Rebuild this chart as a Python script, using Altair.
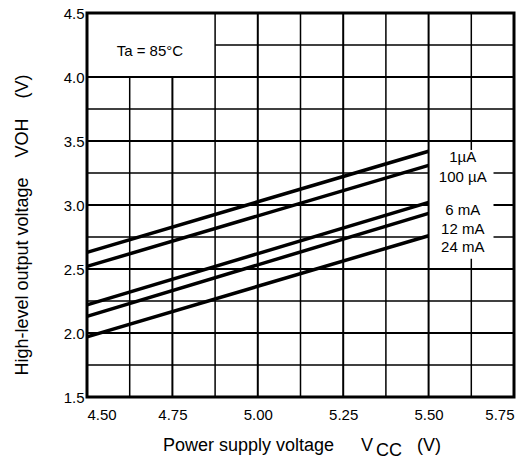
import altair as alt
import pandas as pd

# ---- data ----
vcc = [4.50, 5.50]
series = ["1µA", "100 µA", "6 mA", "12 mA", "24 mA"]
voh_start = [2.63, 2.52, 2.22, 2.13, 1.97]
voh_end = [3.42, 3.31, 3.02, 2.935, 2.76]
label_x = [5.60, 5.60, 5.60, 5.60, 5.60]
label_y = [3.375, 3.22, 2.96, 2.81, 2.67]

x_ticks = [4.50, 4.75, 5.00, 5.25, 5.50, 5.75]
y_ticks = [1.5, 2.0, 2.5, 3.0, 3.5, 4.0, 4.5]
x_grid = [4.625, 4.75, 4.875, 5.0, 5.125, 5.25, 5.375, 5.5, 5.625]
y_grid = [1.75, 2.0, 2.25, 2.5, 2.75, 3.0, 3.25, 3.5, 3.75, 4.0, 4.25]

XMIN, XMAX, YMIN, YMAX = 4.5, 5.75, 1.5, 4.5

# ---- tables ----
curve_rows = []
for s, a, b in zip(series, voh_start, voh_end):
    curve_rows.append({"s": s, "x": vcc[0], "y": a})
    curve_rows.append({"s": s, "x": vcc[1], "y": b})
curves = pd.DataFrame(curve_rows)

labels = pd.DataFrame({"s": series, "x": label_x, "y": label_y})

seg = []
for gx in x_grid:
    w = 2.0 if abs((gx * 4) - round(gx * 4)) < 1e-9 else 1.5
    if gx < 4.875:
        seg.append((gx, gx, YMIN, 4.0, w))
    elif gx == 5.625:
        seg.append((gx, gx, YMIN, 2.58, w))
        seg.append((gx, gx, 3.43, YMAX, w))
    else:
        seg.append((gx, gx, YMIN, YMAX, w))
for gy in y_grid:
    w = 2.0 if abs((gy * 2) - round(gy * 2)) < 1e-9 else 1.5
    if gy == 4.25:
        seg.append((4.875, XMAX, gy, gy, w))
    elif gy in (2.75, 3.0, 3.25):
        seg.append((XMIN, 5.5, gy, gy, w))
        seg.append((5.69, XMAX, gy, gy, w))
    else:
        seg.append((XMIN, XMAX, gy, gy, w))
grid = pd.DataFrame(seg, columns=["x", "x2", "y", "y2", "w"])

xs = alt.Scale(domain=[XMIN, XMAX], nice=False, zero=False)
ys = alt.Scale(domain=[YMIN, YMAX], nice=False, zero=False)

xaxis = alt.Axis(values=x_ticks, format=".2f", title=None, grid=False, ticks=False,
                 domain=False, labelFontSize=15, labelColor="black", labelPadding=10)
yaxis = alt.Axis(values=y_ticks, format=".1f", title=None, grid=False, ticks=False,
                 domain=False, labelFontSize=15, labelColor="black", labelPadding=3)

grid_layer = alt.Chart(grid).mark_rule(color="black").encode(
    x=alt.X("x:Q", scale=xs, axis=xaxis),
    x2="x2:Q",
    y=alt.Y("y:Q", scale=ys, axis=yaxis),
    y2="y2:Q",
    strokeWidth=alt.StrokeWidth("w:Q", scale=None),
)

line_layer = alt.Chart(curves).mark_line(color="black", strokeWidth=3.5).encode(
    x=alt.X("x:Q", scale=xs),
    y=alt.Y("y:Q", scale=ys),
    detail="s:N",
)

label_layer = alt.Chart(labels).mark_text(fontSize=15, color="black", align="center",
                                          baseline="middle").encode(
    x=alt.X("x:Q", scale=xs),
    y=alt.Y("y:Q", scale=ys),
    text="s:N",
)

ta = pd.DataFrame({"t": ["Ta = 85°C"], "x": [4.684], "y": [4.2]})
ta_layer = alt.Chart(ta).mark_text(fontSize=15, color="black", align="center",
                                   baseline="middle").encode(
    x=alt.X("x:Q", scale=xs), y=alt.Y("y:Q", scale=ys), text="t:N")

def txt(s, px, py, size=18, angle=0, align="left"):
    d = pd.DataFrame({"t": [s]})
    kw = dict(fontSize=size, color="black", align=align, baseline="middle")
    if angle:
        kw["angle"] = angle
    return alt.Chart(d).mark_text(**kw).encode(x=alt.value(px), y=alt.value(py), text="t:N")

nb = "\u00a0"
titles = [
    txt("Power supply voltage", 76, 433),
    txt("V", 274, 433),
    txt("CC", 289, 438),
    txt("(V)", 330, 433),
    txt("High-level output voltage" + nb * 4 + "VOH" + nb * 4 + "(V)", -64, 212,
        angle=270, align="center"),
]

chart = alt.layer(grid_layer, line_layer, label_layer, ta_layer, *titles).properties(
    width=427, height=384,
    autosize=alt.AutoSizeParams(type="none"),
    padding={"left": 87, "top": 13, "right": 15, "bottom": 66},
    background="white",
).configure(font="Liberation Sans").configure_view(stroke="black", strokeWidth=3)

chart.save("out.html", embed_options={"renderer": "svg", "actions": False})
